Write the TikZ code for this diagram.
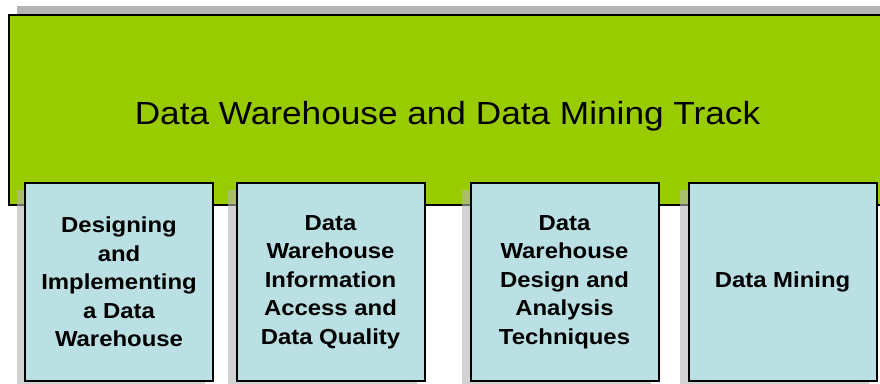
\documentclass[tikz,border=0pt]{standalone}
\usepackage{fontspec}
\setmainfont{Liberation Sans}
\newfontfamily\titlefont[FakeStretch=1.1]{Liberation Sans}
\newfontfamily\boxfont[FakeStretch=1.1]{Liberation Sans}
\definecolor{trackgreen}{HTML}{99CC00}
\definecolor{boxblue}{HTML}{BAE0E4}
\definecolor{shadowgray}{HTML}{B4B4B4}
\tikzset{
  trackbox/.style={draw=black, line width=1.5pt, fill=trackgreen, rectangle, inner sep=0pt,
    minimum width=656pt, minimum height=142.5pt, font=\titlefont\fontsize{24}{28}\selectfont},
  coursebox/.style={draw=black, line width=1.5pt, fill=boxblue, rectangle, inner sep=0pt,
    minimum width=141pt, minimum height=148.5pt, align=center,
    font=\boxfont\bfseries\fontsize{16.3}{21.4}\selectfont},
  shadowbox/.style={fill=shadowgray, draw=none},
  coursesh/.style={fill=shadowgray, draw=none, opacity=0.6}
}
\begin{document}
\begin{tikzpicture}[x=0.75pt,y=-0.75pt]
\useasboundingbox (0,0) rectangle (880,384);
% shadow of track box
\fill[shadowbox] (17,6) rectangle (892,196);
\node[trackbox] (track) at (446.5,110) {};
\node (title) at (447.5,116) {\titlefont\fontsize{24}{28}\selectfont Data Warehouse and Data Mining Track};
% course box shadows
\fill[coursesh] (17,190) rectangle (205,390);
\fill[coursesh] (228,190) rectangle (417,390);
\fill[coursesh] (462,190) rectangle (651,390);
\fill[coursesh] (680,190) rectangle (869,390);
% course boxes
\node[coursebox] (c1) at (119,282) {Designing\\and\\Implementing\\a Data\\Warehouse};
\node[coursebox] (c2) at (330.5,282) {Data\\Warehouse\\Information\\Access and\\Data Quality};
\node[coursebox] (c3) at (564.5,282) {Data\\Warehouse\\Design and\\Analysis\\Techniques};
\node[coursebox] (c4) at (782.5,282) {Data Mining};
\end{tikzpicture}
\end{document}
